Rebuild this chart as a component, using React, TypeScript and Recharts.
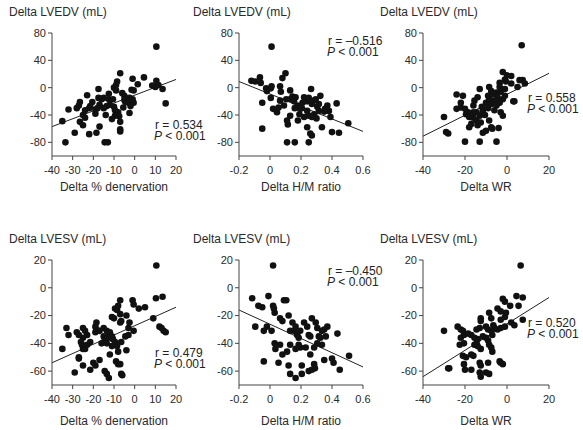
import { ScatterChart, Scatter, XAxis, YAxis, ReferenceLine } from 'recharts'

type Pt = [number, number]

// Delta % denervation vs Delta LVEDV
const denervLvedv: Pt[] = [
  [10.5, 60], [-7, 21], [4.5, 15], [-1, 13], [1.5, 5], [-8.5, 9], [-9, 4], [10.5, 10], [11.5, 4], [10, 1],
  [8.5, 3], [13.5, -2], [15, -23], [-17.5, -2], [-23, -11], [-26.5, -21], [-27, -26], [-28, -30], [-32, -32],
  [-35, -49], [-33.5, -80], [-29, -66], [-25, -40], [-24, -44], [-26.5, -50], [-25, -55], [-22, -68],
  [-18.5, -66], [-17, -57], [-14.5, -80], [-13, -80], [-20.5, -21], [-21.5, -27], [-19, -32], [-19, -38],
  [-17.5, -15], [-16, -17], [-15, -15], [-17, -25], [-13.5, -27], [-12.5, -17], [-12, -25], [-12.5, -9],
  [-10.5, -17], [-10, -28], [-9.5, -33], [-14, -40], [-9.5, -41], [-8, -36], [-7.5, -42], [-7, -50],
  [-7, -61], [-7, -64], [-6, -8], [-5, -12], [-4.5, -21], [-5.5, -29], [-2.5, -15], [-3, -22], [-2, -27],
  [-2.5, -37], [-1, -17], [-0.5, -22], [-1.5, -3], [-0.5, -4], [-10, 0], [-9, -4], [-22, -30], [-24, -33],
  [-11, -46], [-15, -30], [-18, -30], [-5, -18],
]
// Delta H/M ratio vs Delta LVEDV
const hmLvedv: Pt[] = [
  [0.01, 60], [-0.12, 10], [-0.095, 9], [-0.065, 15], [-0.06, 7], [-0.025, -1], [0.005, -1], [0.01, 2],
  [-0.02, -5], [0.005, -15], [-0.05, -22], [-0.05, -60], [0.02, -31], [0.045, -36], [0.055, -29], [0.065, 2],
  [0.07, -6], [0.08, 14], [0.1, 21], [0.065, -19], [0.105, -17], [0.09, -26], [0.13, -4], [0.13, -17],
  [0.145, -13], [0.165, -14], [0.155, -20], [0.11, -48], [0.115, -54], [0.11, -80], [0.16, -80], [0.25, -80],
  [0.18, -26], [0.195, -31], [0.19, -39], [0.205, -30], [0.22, -14], [0.24, -20], [0.24, -34], [0.265, -2],
  [0.25, -15], [0.27, -24], [0.28, -19], [0.295, -17], [0.22, -43], [0.24, -58], [0.26, -67], [0.27, -70],
  [0.285, -39], [0.305, -28], [0.315, -24], [0.325, -12], [0.315, -34], [0.355, -31], [0.37, -26], [0.38, -34],
  [0.39, -43], [0.43, -23], [0.335, -58], [0.4, -65], [0.445, -66], [0.505, -52], [0.25, -41], [0.27, -43],
  [0.18, -48], [0.13, -41], [0.3, -45], [0.35, -35], [0.16, -30], [0.21, -22],
]
// Delta WR vs Delta LVEDV
const wrLvedv: Pt[] = [
  [7, 62], [-2, 23], [0, 18], [2, 17], [-1, 12], [-0.5, 9], [-3.5, 7], [6, 11], [7.5, 11], [8.5, 6], [5, 1],
  [2, 6], [-1, -2], [-3, -6], [-3.5, 1], [-8.5, 1], [-7.5, -5], [-7, -10], [-9, -12], [-8.5, -17], [-10, -22],
  [-7.5, -24], [-13, -2], [-5, -7], [-4.5, -14], [-6, -19], [-5, -26], [-3.5, -22], [-2, -17], [-1, -12],
  [3, -20], [3.5, -20], [-24, -10], [-21, -12], [-22, -22], [-22, -29], [-20, -31], [-24, -31], [-19.5, -39],
  [-18.5, -36], [-30, -43], [-29, -65], [-28, -67], [-20, -79], [-13, -79], [-5, -79], [-18, -58], [-17, -53],
  [-16, -44], [-14.5, -48], [-14, -55], [-12.5, -51], [-11.5, -66], [-10, -63], [-8.5, -48], [-7.5, -58],
  [-7, -60], [-4, -59], [-3, -36], [-2, -41], [-16, -26], [-15.5, -19], [-14, -14], [-14.5, -36], [-13, -41],
  [-11.5, -34], [-10.5, -40], [-16, -36], [-18, -43], [-9, -30], [-6, -33], [-12, -28],
]
// Delta % denervation vs Delta LVESV
const denervLvesv: Pt[] = [
  [10.5, 16], [10.3, -7.5], [13.5, -6.5], [-1, -9], [-0.5, -12], [2, -15], [5, -14], [-7, -9], [-9.5, -15],
  [-8.5, -16], [-8, -13], [-11, -21], [-10, -22], [-7, -19], [-4, -20], [-6.5, -24], [-7, -25], [9, -22],
  [12, -28], [13, -29], [14, -31], [15, -32], [-18.5, -25], [-19, -28], [-18.5, -30], [-19, -32], [-25, -29],
  [-24, -31], [-23, -34], [-25, -36], [-28, -32], [-27, -34], [-33, -29], [-32, -34], [-35, -44], [-26, -39],
  [-25.5, -41], [-25, -44], [-24, -44], [-23, -41], [-21.5, -39], [-17, -31], [-15, -29], [-13.5, -31],
  [-12.5, -34], [-12, -32], [-15, -35], [-14.5, -38], [-16, -40], [-13.5, -40], [-12.5, -36], [-11, -35],
  [-10.5, -37], [-9.5, -39], [-11, -42], [-12, -48], [-8.5, -42], [-8, -46], [-6.5, -39], [-4.5, -35],
  [-3, -29], [-2.5, -25], [-3, -34], [-0.5, -31], [-4, -45], [-27, -50], [-27, -51], [-29, -61], [-25, -56],
  [-21.5, -59], [-20, -54], [-17, -52], [-19, -56], [-14.5, -60], [-13.5, -62], [-12.5, -65], [-9, -53],
  [-8, -55], [-7, -55], [-6.5, -62], [-6, -63],
]
// Delta H/M ratio vs Delta LVESV
const hmLvesv: Pt[] = [
  [0.02, 16], [-0.115, -7.5], [-0.075, -13], [-0.05, -14], [-0.01, -6], [0.02, -13], [0.03, -18], [0.025, -15],
  [0.09, -9], [0.105, -9], [-0.095, -28], [-0.04, -31], [-0.02, -28], [0.01, -31], [0.065, -22], [0.08, -24],
  [0.12, -20], [0.145, -25], [0.165, -28], [0.155, -31], [0.13, -31], [0.175, -34], [0.185, -36], [0.195, -31],
  [0.22, -25], [0.24, -28], [0.25, -34], [0.26, -35], [0.27, -22], [0.295, -25], [0.305, -29], [0.315, -35],
  [0.325, -36], [0.335, -31], [0.35, -30], [0.36, -35], [0.37, -28], [0.335, -41], [0.435, -33], [0.03, -40],
  [0.035, -44], [0.065, -41], [0.08, -48], [0.11, -46], [0.13, -41], [0.165, -44], [0.185, -41], [0.195, -43],
  [0.23, -43], [0.26, -48], [0.285, -43], [0.305, -40], [-0.04, -53], [0.055, -54], [0.12, -56], [0.13, -62],
  [0.165, -65], [0.205, -62], [0.205, -56], [0.25, -60], [0.27, -59], [0.285, -55], [0.29, -58], [0.35, -52],
  [0.4, -51], [0.41, -54], [0.45, -59], [0.51, -49],
]
// Delta WR vs Delta LVESV
const wrLvesv: Pt[] = [
  [6.5, 16], [-2, -8], [-1, -10], [1.5, -13], [4.5, -6], [7.5, -7], [5.5, -13], [-4.5, -15], [-3, -17],
  [-0.5, -18], [-1, -21], [-3, -23], [2, -25], [3.5, -27], [7.5, -23], [-8.5, -18], [-7.5, -22], [-6.5, -27],
  [-12.5, -22], [-12.5, -24], [-10, -28], [-13, -29], [-14.5, -30], [-9, -30], [-7.5, -31], [-7, -34],
  [-6, -29], [-4.5, -30], [-3, -29], [-1, -28], [-23.5, -28], [-22, -30], [-21, -31], [-20.5, -34],
  [-18.5, -33], [-17, -34], [-22, -36], [-22.5, -41], [-20.5, -40], [-30, -31], [-15.5, -36], [-14.5, -40],
  [-14, -37], [-11.5, -35], [-10, -36], [-9, -38], [-8.5, -41], [-7.5, -43], [-7, -46], [-12.5, -44],
  [-14, -42], [-15.5, -41], [-21, -49], [-19.5, -50], [-17, -48], [-16, -49], [-28, -58], [-27.5, -58],
  [-20, -59], [-20.5, -55], [-17, -59], [-13, -54], [-12.5, -56], [-9, -54], [-13, -61], [-12.5, -64],
  [-10, -61], [-8.5, -62], [-3.5, -53], [-3, -54], [-2, -55],
]

// regression line end points
const fitDenervLvedv: Pt[] = [[-40, -57], [20, 12]]
const fitHmLvedv: Pt[] = [[-0.2, 9], [0.6, -64]]
const fitWrLvedv: Pt[] = [[-40, -71], [20, 21]]
const fitDenervLvesv: Pt[] = [[-40, -54], [20, -14]]
const fitHmLvesv: Pt[] = [[-0.2, -16], [0.6, -57]]
const fitWrLvesv: Pt[] = [[-40, -64], [20, -7]]

const rValues = ['0.534', '\u20130.516', '0.558', '0.479', '\u20130.450', '0.520']

// axis ticks
const denervTicks = [-40, -30, -20, -10, 0, 10, 20]
const hmTicks = [-0.2, 0, 0.2, 0.4, 0.6]
const wrTicks = [-40, -20, 0, 20]
const lvedvTicks = [80, 40, 0, -40, -80]
const lvesvTicks = [20, 0, -20, -40, -60]

const fmt = (v: number) => (v < 0 ? '-' + String(Math.abs(v)) : String(v))

const Dot = (props: any) => <circle cx={props.cx} cy={props.cy} r={3.3} fill="#111" />

interface PanelProps {
  left: number
  top: number
  width: number
  height: number
  plotTop: number
  plotBottom: number
  labelOffset: number
  titleLeft: number
  title: string
  xLabel: string
  points: Pt[]
  fit: Pt[]
  xDomain: [number, number]
  xTicks: number[]
  yDomain: [number, number]
  yTicks: number[]
}

const Panel = (p: PanelProps) => {
  const data = p.points.map(([x, y]) => ({ x, y }))
  const plotWidth = p.left > 300 ? 126 : 124
  return (
    <div style={{ position: 'absolute', left: p.left, top: p.top, width: p.width, height: p.height }}>
      <div style={{ position: 'absolute', left: p.titleLeft, top: p.plotTop - 28, fontSize: 12, color: '#2a2a2a', whiteSpace: 'nowrap' }}>
        {p.title}
      </div>
      <ScatterChart
        width={p.width}
        height={p.height}
        margin={{ top: p.plotTop, right: p.width - 52 - plotWidth, bottom: p.height - p.plotBottom - 20, left: 0 }}
      >
        <XAxis
          type="number"
          dataKey="x"
          domain={p.xDomain}
          ticks={p.xTicks}
          interval={0}
          tickFormatter={fmt}
          allowDataOverflow
          height={20}
          tickSize={4}
          tickMargin={6}
          stroke="#444"
          tick={{ fontSize: 11, fill: '#2a2a2a' }}
          label={{ value: p.xLabel, position: 'bottom', offset: p.labelOffset, fontSize: 12, fill: '#2a2a2a' }}
        />
        <YAxis
          type="number"
          dataKey="y"
          domain={p.yDomain}
          ticks={p.yTicks}
          interval={0}
          tickFormatter={fmt}
          allowDataOverflow
          width={52}
          tickSize={4}
          tickMargin={2}
          stroke="#444"
          tick={{ fontSize: 11, fill: '#2a2a2a' }}
        />
        <ReferenceLine
          segment={[{ x: p.fit[0][0], y: p.fit[0][1] }, { x: p.fit[1][0], y: p.fit[1][1] }]}
          stroke="#222"
          strokeWidth={1}
        />
        <Scatter data={data} shape={Dot} isAnimationActive={false} />
      </ScatterChart>
    </div>
  )
}

const Stat = ({ x, y, r }: { x: number; y: number; r: string }) => (
  <div style={{ position: 'absolute', left: x, top: y, fontSize: 12, lineHeight: '11px', color: '#222', whiteSpace: 'nowrap' }}>
    <div>r = {r}</div>
    <div style={{ marginLeft: -1 }}>
      <i>P</i> &lt; 0.001
    </div>
  </div>
)

export default function App() {
  const top = { top: 0, height: 215, plotTop: 33, plotBottom: 156, labelOffset: 6, yDomain: [-100, 80] as [number, number], yTicks: lvedvTicks }
  const bot = { top: 225, height: 205, plotTop: 35, plotBottom: 160, labelOffset: 11, yDomain: [-70, 20] as [number, number], yTicks: lvesvTicks }
  return (
    <div
      style={{
        position: 'absolute',
        left: 0,
        top: 0,
        width: 583,
        height: 430,
        background: '#fff',
        fontFamily: '"Liberation Sans", Arial, Helvetica, sans-serif',
      }}
    >
      <Panel {...top} left={0} width={186} titleLeft={9} title="Delta LVEDV (mL)" xLabel="Delta % denervation" points={denervLvedv} fit={fitDenervLvedv} xDomain={[-40, 20]} xTicks={denervTicks} />
      <Panel {...top} left={187} width={186} titleLeft={6} title="Delta LVEDV (mL)" xLabel="Delta H/M ratio" points={hmLvedv} fit={fitHmLvedv} xDomain={[-0.2, 0.6]} xTicks={hmTicks} />
      <Panel {...top} left={371} width={188} titleLeft={9} title="Delta LVEDV (mL)" xLabel="Delta WR" points={wrLvedv} fit={fitWrLvedv} xDomain={[-40, 20]} xTicks={wrTicks} />
      <Panel {...bot} left={0} width={186} titleLeft={9} title="Delta LVESV (mL)" xLabel="Delta % denervation" points={denervLvesv} fit={fitDenervLvesv} xDomain={[-40, 20]} xTicks={denervTicks} />
      <Panel {...bot} left={187} width={186} titleLeft={6} title="Delta LVESV (mL)" xLabel="Delta H/M ratio" points={hmLvesv} fit={fitHmLvesv} xDomain={[-0.2, 0.6]} xTicks={hmTicks} />
      <Panel {...bot} left={371} width={188} titleLeft={9} title="Delta LVESV (mL)" xLabel="Delta WR" points={wrLvesv} fit={fitWrLvesv} xDomain={[-40, 20]} xTicks={wrTicks} />

      <Stat x={155} y={120} r={rValues[0]} />
      <Stat x={328} y={36} r={rValues[1]} />
      <Stat x={528} y={93} r={rValues[2]} />
      <Stat x={155} y={348} r={rValues[3]} />
      <Stat x={328} y={266} r={rValues[4]} />
      <Stat x={528} y={318} r={rValues[5]} />
    </div>
  )
}
